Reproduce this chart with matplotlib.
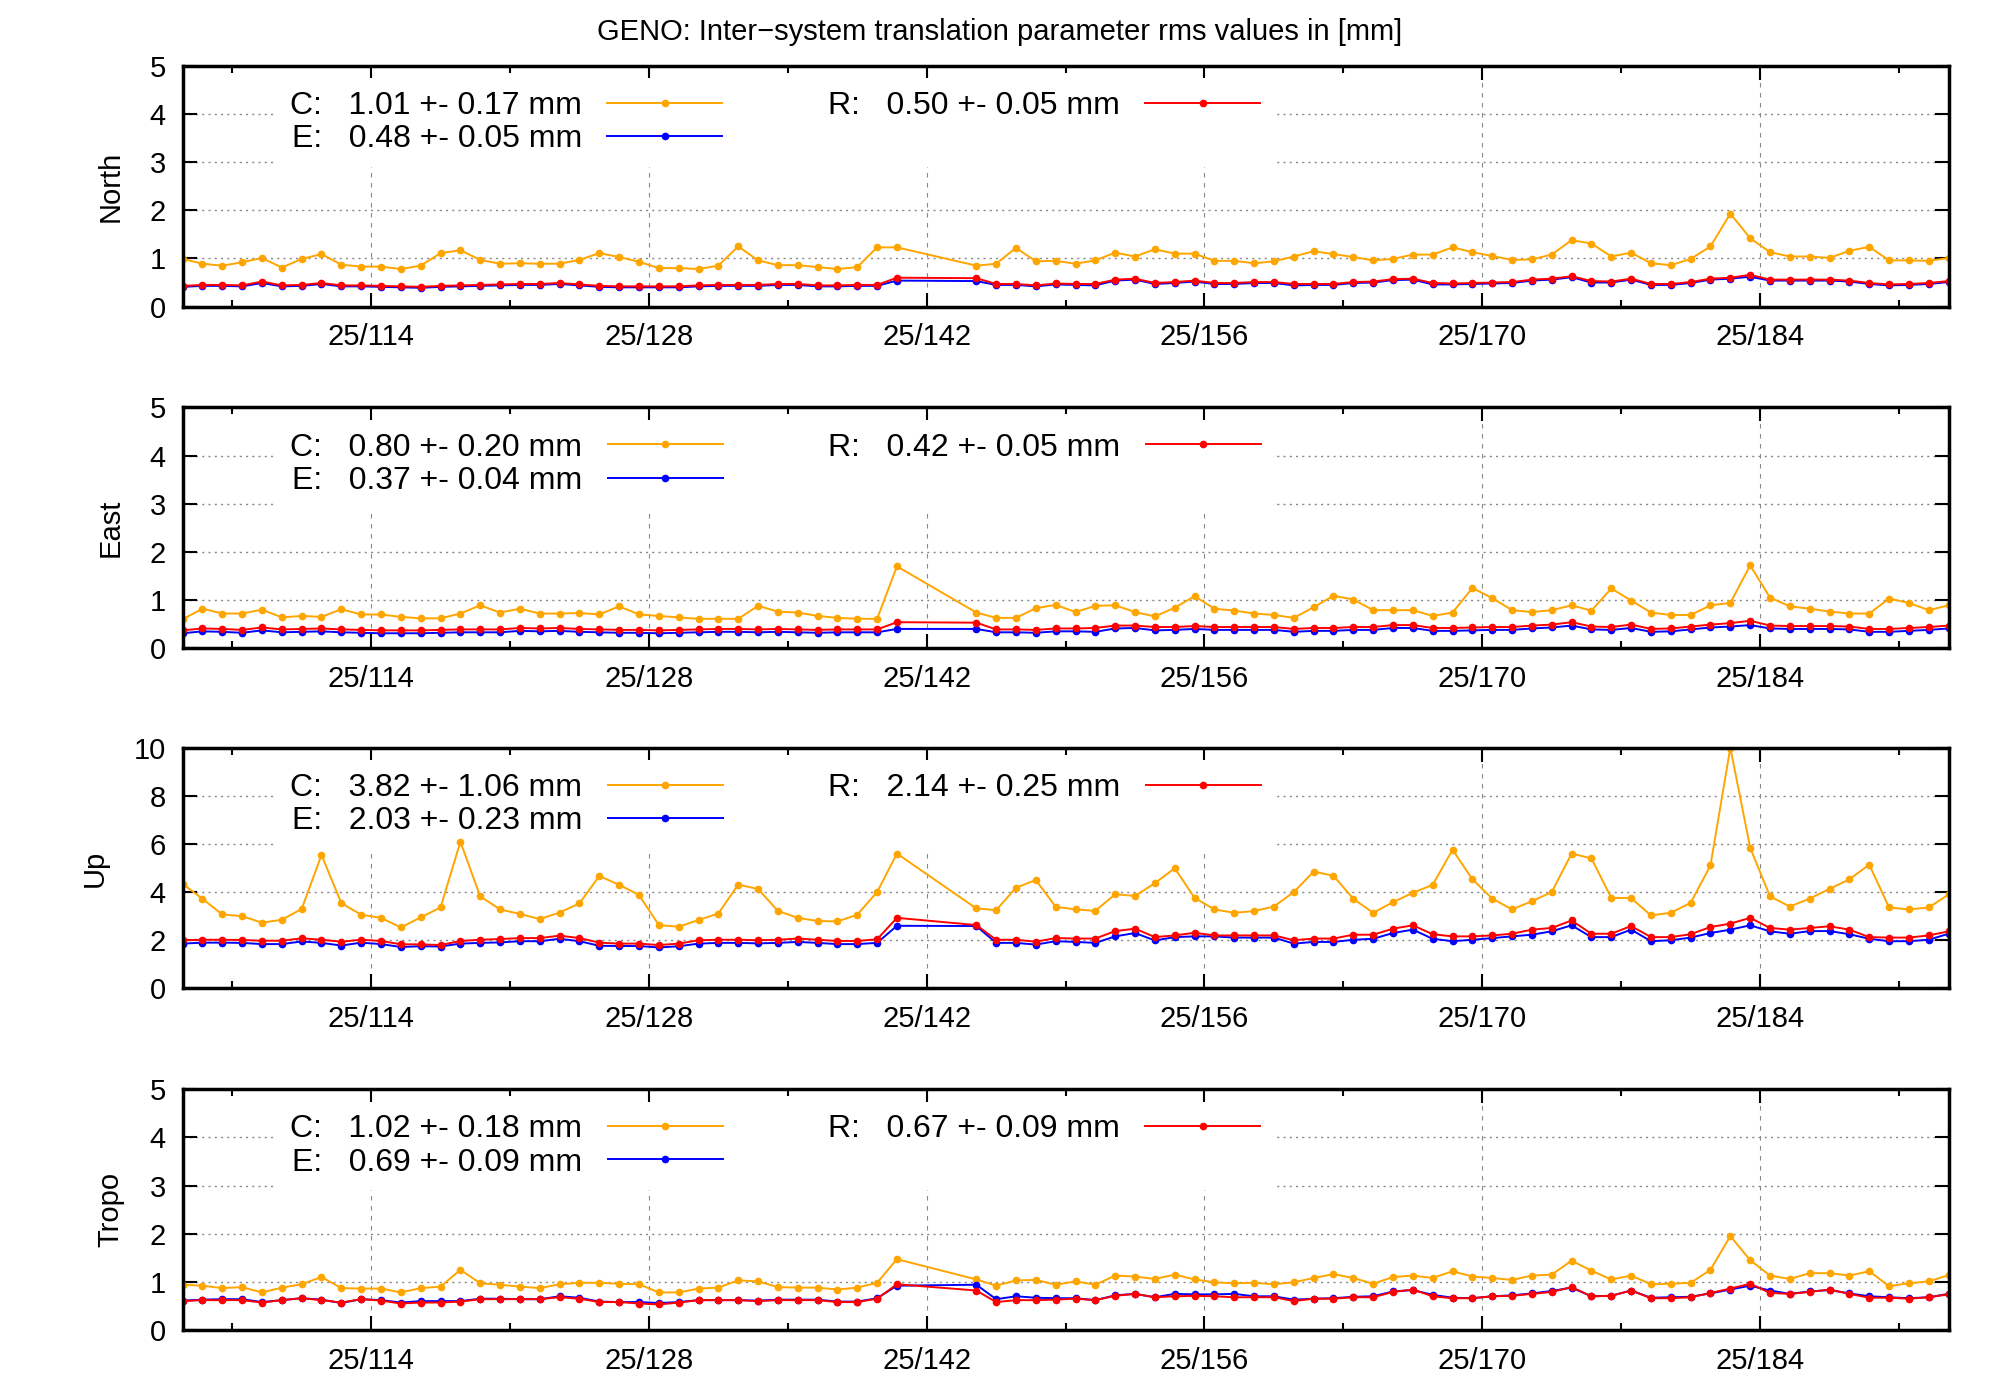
import numpy as np
import matplotlib
matplotlib.use("Agg")
import matplotlib.pyplot as plt
from matplotlib.ticker import MultipleLocator

plt.rcParams["font.family"] = "Liberation Sans"

days = [104.5 + i for i in range(37)] + [144.5 + i for i in range(50)]

north_C = [0.99,0.89,0.85,0.92,1.01,0.81,0.99,1.09,0.87,0.83,0.83,0.78,0.85,1.11,1.17,0.97,0.89,0.90,0.89,0.89,
           0.97,1.11,1.03,0.93,0.80,0.80,0.78,0.85,1.25,0.96,0.86,0.86,0.82,0.78,0.82,1.23,1.23,
           0.85,0.89,1.22,0.94,0.95,
           0.89,0.96,1.12,1.04,1.19,1.10,1.10,0.95,0.95,0.90,0.94,1.04,1.15,1.09,1.03,0.96,0.99,1.08,1.08,1.23,
           1.13,1.05,0.97,0.98,1.08,1.38,1.31,1.04,1.12,0.90,0.86,0.99,1.25,1.93,1.42,1.13,1.04,1.04,1.01,1.16,
           1.24,0.96,0.96,0.95,1.01]
north_R = [0.43,0.45,0.45,0.44,0.52,0.44,0.45,0.49,0.44,0.44,0.43,0.42,0.41,0.43,0.44,0.45,0.46,0.47,0.47,0.49,
           0.46,0.43,0.42,0.42,0.42,0.42,0.44,0.45,0.45,0.45,0.47,0.47,0.44,0.44,0.45,0.45,0.60,
           0.59,0.47,0.47,0.44,0.48,
           0.47,0.47,0.56,0.58,0.49,0.51,0.54,0.49,0.49,0.51,0.51,0.47,0.47,0.47,0.51,0.52,0.57,0.58,0.49,0.48,
           0.49,0.50,0.51,0.56,0.58,0.63,0.53,0.52,0.58,0.47,0.47,0.51,0.58,0.60,0.66,0.56,0.56,0.56,0.56,0.54,
           0.49,0.46,0.47,0.49,0.53]
north_E = [0.41,0.43,0.43,0.42,0.49,0.42,0.43,0.47,0.42,0.42,0.41,0.40,0.39,0.41,0.42,0.43,0.44,0.45,0.45,0.47,
           0.44,0.41,0.40,0.40,0.40,0.40,0.42,0.43,0.43,0.43,0.45,0.45,0.42,0.42,0.43,0.43,0.54,
           0.53,0.45,0.45,0.42,0.46,
           0.45,0.44,0.54,0.56,0.47,0.49,0.52,0.47,0.47,0.49,0.49,0.44,0.45,0.45,0.49,0.50,0.55,0.56,0.46,0.46,
           0.47,0.48,0.49,0.54,0.56,0.61,0.50,0.50,0.56,0.45,0.45,0.49,0.56,0.58,0.62,0.54,0.54,0.54,0.54,0.52,
           0.47,0.44,0.45,0.47,0.51]

east_C = [0.60,0.82,0.72,0.72,0.80,0.64,0.67,0.65,0.81,0.70,0.70,0.65,0.62,0.62,0.72,0.89,0.74,0.82,0.72,0.72,
          0.73,0.70,0.87,0.70,0.67,0.64,0.61,0.61,0.61,0.88,0.76,0.74,0.67,0.63,0.61,0.61,1.70,
          0.74,0.63,0.63,0.83,0.90,
          0.75,0.88,0.89,0.75,0.66,0.84,1.08,0.82,0.78,0.72,0.69,0.63,0.85,1.09,1.01,0.79,0.79,0.79,0.67,0.74,
          1.25,1.04,0.79,0.75,0.79,0.89,0.78,1.24,0.99,0.74,0.69,0.69,0.89,0.94,1.72,1.05,0.87,0.82,0.76,0.72,
          0.72,1.03,0.94,0.79,0.89]
east_R = [0.37,0.41,0.40,0.38,0.43,0.39,0.40,0.41,0.39,0.38,0.37,0.37,0.37,0.38,0.39,0.39,0.39,0.42,0.41,0.42,
          0.40,0.39,0.38,0.38,0.37,0.38,0.39,0.40,0.40,0.39,0.40,0.39,0.38,0.39,0.39,0.39,0.54,
          0.53,0.39,0.39,0.38,0.41,
          0.41,0.42,0.47,0.47,0.44,0.44,0.46,0.44,0.44,0.44,0.44,0.40,0.42,0.42,0.44,0.44,0.48,0.48,0.42,0.42,
          0.43,0.44,0.44,0.47,0.49,0.54,0.45,0.44,0.49,0.40,0.41,0.45,0.49,0.52,0.57,0.47,0.46,0.46,0.46,0.45,
          0.40,0.40,0.42,0.44,0.47]
east_E = [0.31,0.35,0.34,0.32,0.37,0.33,0.34,0.35,0.33,0.32,0.31,0.31,0.31,0.32,0.33,0.33,0.33,0.36,0.35,0.36,
          0.34,0.33,0.32,0.32,0.31,0.32,0.33,0.34,0.34,0.33,0.34,0.33,0.32,0.33,0.33,0.33,0.40,
          0.40,0.33,0.33,0.32,0.35,
          0.35,0.34,0.41,0.42,0.37,0.38,0.40,0.38,0.38,0.38,0.38,0.34,0.36,0.36,0.38,0.38,0.42,0.42,0.36,0.36,
          0.37,0.38,0.38,0.41,0.43,0.47,0.39,0.38,0.42,0.34,0.35,0.39,0.43,0.45,0.48,0.41,0.40,0.40,0.40,0.39,
          0.34,0.34,0.36,0.38,0.41]

up_C = [4.34,3.72,3.07,3.00,2.73,2.85,3.30,5.54,3.54,3.06,2.93,2.53,2.95,3.36,6.09,3.82,3.28,3.09,2.88,3.15,
        3.53,4.67,4.30,3.88,2.63,2.56,2.84,3.11,4.31,4.13,3.22,2.93,2.80,2.78,3.06,4.00,5.60,
        3.32,3.25,4.18,4.50,3.39,
        3.28,3.22,3.91,3.84,4.37,4.99,3.76,3.28,3.14,3.21,3.40,4.00,4.85,4.68,3.72,3.14,3.58,3.97,4.30,5.76,
        4.53,3.73,3.28,3.62,4.00,5.60,5.40,3.76,3.75,3.03,3.14,3.55,5.11,10.0,5.84,3.82,3.40,3.73,4.13,4.53,
        5.14,3.36,3.28,3.36,3.90]
up_R = [2.00,2.02,2.02,2.01,1.98,1.98,2.08,2.02,1.94,2.02,1.97,1.83,1.83,1.80,1.97,2.02,2.05,2.09,2.09,2.19,
        2.09,1.90,1.86,1.86,1.80,1.86,2.00,2.02,2.02,2.00,2.02,2.07,2.02,1.97,1.97,2.04,2.93,
        2.63,2.02,2.02,1.94,2.09,
        2.07,2.07,2.38,2.48,2.13,2.20,2.31,2.20,2.20,2.20,2.20,2.00,2.07,2.07,2.23,2.23,2.48,2.62,2.25,2.16,
        2.16,2.20,2.27,2.44,2.51,2.82,2.27,2.27,2.59,2.13,2.13,2.25,2.55,2.69,2.93,2.51,2.44,2.51,2.58,2.44,
        2.13,2.11,2.11,2.20,2.37]
up_E = [1.86,1.90,1.90,1.89,1.84,1.84,1.95,1.89,1.78,1.90,1.84,1.72,1.75,1.74,1.86,1.89,1.91,1.96,1.96,2.06,
        1.96,1.77,1.76,1.76,1.70,1.75,1.86,1.89,1.89,1.87,1.89,1.93,1.89,1.84,1.84,1.89,2.60,
        2.59,1.89,1.89,1.82,1.96,
        1.93,1.89,2.16,2.30,1.99,2.13,2.16,2.16,2.11,2.11,2.11,1.86,1.93,1.93,2.02,2.06,2.30,2.44,2.06,1.96,
        2.02,2.09,2.16,2.23,2.37,2.62,2.13,2.13,2.44,1.96,2.00,2.11,2.30,2.44,2.62,2.37,2.27,2.38,2.38,2.25,
        2.06,1.96,1.96,2.02,2.27]

tropo_C = [0.94,0.92,0.87,0.89,0.78,0.88,0.95,1.10,0.87,0.86,0.86,0.78,0.87,0.90,1.25,0.97,0.94,0.90,0.87,0.95,
           0.98,0.98,0.96,0.95,0.78,0.78,0.86,0.88,1.03,1.01,0.89,0.88,0.88,0.84,0.88,0.98,1.47,
           1.05,0.92,1.03,1.04,0.94,
           1.01,0.94,1.13,1.11,1.06,1.15,1.05,0.99,0.97,0.98,0.95,0.99,1.08,1.16,1.08,0.96,1.10,1.13,1.08,1.22,
           1.11,1.08,1.04,1.13,1.15,1.44,1.23,1.05,1.13,0.95,0.96,0.98,1.25,1.95,1.45,1.13,1.06,1.18,1.18,1.13,
           1.22,0.91,0.97,1.01,1.14]
tropo_R = [0.60,0.62,0.62,0.62,0.57,0.62,0.66,0.62,0.57,0.64,0.61,0.55,0.57,0.57,0.59,0.64,0.64,0.64,0.64,0.68,
           0.65,0.58,0.58,0.55,0.53,0.57,0.62,0.62,0.62,0.60,0.62,0.62,0.62,0.58,0.58,0.65,0.95,
           0.82,0.58,0.62,0.62,0.63,
           0.65,0.62,0.71,0.75,0.68,0.70,0.71,0.70,0.68,0.68,0.68,0.60,0.65,0.65,0.68,0.68,0.79,0.84,0.70,0.66,
           0.66,0.70,0.71,0.75,0.79,0.89,0.70,0.71,0.82,0.66,0.66,0.68,0.77,0.86,0.96,0.77,0.75,0.79,0.84,0.75,
           0.67,0.67,0.65,0.68,0.74]
tropo_E = [0.61,0.63,0.64,0.64,0.58,0.62,0.66,0.63,0.56,0.64,0.62,0.57,0.60,0.60,0.60,0.65,0.65,0.64,0.64,0.70,
           0.67,0.59,0.58,0.58,0.56,0.58,0.62,0.62,0.62,0.61,0.63,0.63,0.63,0.59,0.59,0.66,0.92,
           0.94,0.64,0.70,0.67,0.66,
           0.66,0.62,0.72,0.75,0.68,0.75,0.74,0.74,0.75,0.70,0.70,0.63,0.65,0.66,0.69,0.70,0.80,0.83,0.73,0.67,
           0.66,0.70,0.72,0.76,0.81,0.88,0.70,0.71,0.82,0.67,0.68,0.69,0.76,0.84,0.92,0.82,0.75,0.80,0.83,0.76,
           0.70,0.68,0.66,0.68,0.75]

panels = ["North", "East", "Up", "Tropo"]
ylims = [5, 5, 10, 5]
legend_C = ["1.01 +- 0.17 mm", "0.80 +- 0.20 mm", "3.82 +- 1.06 mm", "1.02 +- 0.18 mm"]
legend_E = ["0.48 +- 0.05 mm", "0.37 +- 0.04 mm", "2.03 +- 0.23 mm", "0.69 +- 0.09 mm"]
legend_R = ["0.50 +- 0.05 mm", "0.42 +- 0.05 mm", "2.14 +- 0.25 mm", "0.67 +- 0.09 mm"]
data_C = [north_C, east_C, up_C, tropo_C]
data_E = [north_E, east_E, up_E, tropo_E]
data_R = [north_R, east_R, up_R, tropo_R]
major_days = [114, 128, 142, 156, 170, 184]
minor_days = [107, 121, 135, 149, 163, 177, 191]

fig = plt.figure(figsize=(20, 14), dpi=100)
fig.text(0.5, 0.977, "GENO: Inter\u2212system translation parameter rms values in [mm]",
         ha="center", va="center", fontsize=21)

bottoms = [0.781, 0.537, 0.294, 0.050]
for i in range(4):
    ax = fig.add_axes([0.0913, bottoms[i], 0.883, 0.172])
    kw = dict(marker="o", markersize=4.5, linewidth=1.4, zorder=5)
    hC, = ax.plot(days, data_C[i], color="#FFA500", label="C:   " + legend_C[i], **kw)
    hE, = ax.plot(days, data_E[i], color="#0000FF", label="E:   " + legend_E[i], **kw)
    hR, = ax.plot(days, data_R[i], color="#FF0000", label="R:   " + legend_R[i], **kw)
    ax.set_xlim(104.5, 193.5)
    ax.set_ylim(0, ylims[i])
    ax.yaxis.set_major_locator(MultipleLocator(2 if ylims[i] == 10 else 1))
    ax.set_xticks(major_days)
    ax.set_xticklabels(["25/%d" % d for d in major_days])
    ax.set_xticks(minor_days, minor=True)
    ax.tick_params(which="both", direction="in", top=True, right=True, labelsize=21,
                   length=10, width=1.5, pad=12)
    ax.tick_params(which="minor", length=5)
    ax.grid(True, which="major", axis="y", color="#888888", linestyle=(0, (1.5, 3)), linewidth=1)
    ax.grid(True, which="major", axis="x", color="#888888", linestyle=(0, (4, 5)), linewidth=0.8)
    for s in ax.spines.values():
        s.set_linewidth(2.5)
        s.set_zorder(6)
    ax.set_ylabel(panels[i], fontsize=21, labelpad=18)
    leg = ax.legend(handles=[hC, hE, hR], ncol=2, loc="upper left", bbox_to_anchor=(0.05, 0.975),
                    frameon=True, framealpha=1, edgecolor="white", fancybox=False,
                    markerfirst=False, fontsize=23, handlelength=3.6, columnspacing=3.3,
                    labelspacing=0.1, borderaxespad=0.2)
    leg.get_frame().set_linewidth(0)
    leg.set_zorder(2)

fig.savefig("out.png", dpi=100)
